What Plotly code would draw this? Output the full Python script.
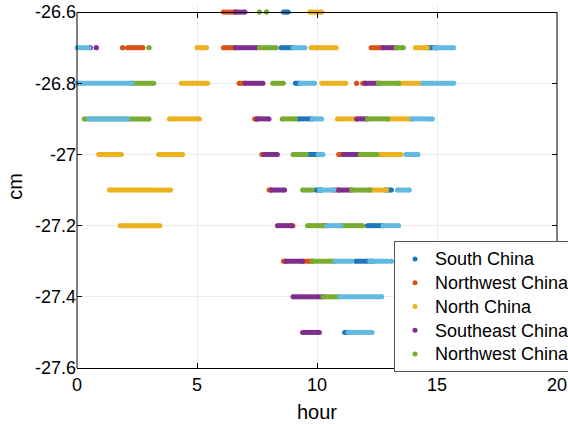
import plotly.graph_objects as go

# ---- data: segments of samples (level in cm, start hour, end hour) ----
south_lvl = [-26.6, -26.7, -26.7, -26.8, -26.9, -27.0, -27.1, -27.1, -27.2, -27.3, -27.5]
south_x0 = [8.6, 8.5, 14.6, 9.1, 9.2, 9.65, 9.95, 12.85, 12.1, 11.6, 11.15]
south_x1 = [8.8, 9.0, 15.0, 9.3, 9.8, 10.05, 10.2, 13.1, 12.75, 12.35, 11.4]

nwest_lvl = [-26.6, -26.7, -26.7, -26.7, -26.7, -26.8, -26.8, -26.8, -26.9, -27.0, -27.0, -27.1, -27.1, -27.2, -27.2, -27.3, -27.3]
nwest_x0 = [6.1, 1.9, 2.1, 6.1, 12.25, 6.75, 11.65, 11.9, 7.4, 7.7, 10.9, 8.0, 10.7, 8.95, 10.25, 8.6, 9.4]
nwest_x1 = [6.6, 1.9, 2.75, 6.6, 12.75, 7.0, 11.65, 12.0, 7.5, 7.8, 11.1, 8.1, 10.9, 9.0, 10.4, 8.7, 9.8]

north_lvl = [-26.6, -26.7, -26.7, -26.7, -26.8, -26.8, -26.8, -26.9, -26.9, -26.9, -27.0, -27.0, -27.0, -27.1, -27.1, -27.1, -27.2]
north_x0 = [9.7, 5.0, 9.75, 14.1, 4.35, 10.2, 13.4, 3.85, 10.85, 12.95, 0.9, 3.4, 12.5, 1.35, 2.8, 12.2, 1.8]
north_x1 = [10.2, 5.4, 10.8, 14.6, 5.45, 11.2, 14.4, 5.1, 11.65, 13.95, 1.85, 4.4, 13.5, 2.7, 3.9, 12.9, 3.45]

seast_lvl = [-26.6, -26.7, -26.7, -26.7, -26.7, -26.8, -26.8, -26.9, -26.9, -27.0, -27.0, -27.1, -27.1, -27.2, -27.3, -27.4, -27.5]
seast_x0 = [6.6, 0.55, 0.8, 6.6, 12.75, 7.0, 12.0, 7.5, 11.65, 7.8, 11.1, 8.1, 10.9, 8.35, 8.7, 9.0, 9.4]
seast_x1 = [7.0, 0.55, 0.8, 7.5, 13.3, 7.75, 12.6, 8.0, 12.1, 8.35, 11.8, 8.65, 11.45, 8.95, 9.4, 10.25, 10.1]

nwest2_lvl = [-26.6, -26.6, -26.7, -26.7, -26.7, -26.8, -26.8, -26.8, -26.9, -26.9, -26.9, -27.0, -27.0, -27.1, -27.1, -27.2, -27.2, -27.3, -27.4]
nwest2_x0 = [7.6, 7.9, 3.0, 7.6, 13.3, 2.3, 8.15, 12.55, 0.3, 8.55, 12.1, 9.0, 11.8, 9.4, 11.45, 9.6, 11.0, 9.8, 10.25]
nwest2_x1 = [7.6, 7.9, 3.0, 8.3, 13.6, 3.2, 8.6, 13.4, 3.0, 9.1, 12.95, 9.55, 12.5, 9.8, 12.2, 10.25, 11.9, 10.75, 10.95]

extra_lvl = [-26.7, -26.7, -26.7, -26.8, -26.8, -26.8, -26.9, -26.9, -26.9, -26.9, -27.0, -27.0, -27.0, -27.1, -27.1, -27.2, -27.2, -27.3, -27.3, -27.3, -27.4, -27.5]
extra_x0 = [0.0, 9.0, 14.9, 0.0, 9.3, 14.4, 0.5, 9.8, 13.95, 14.8, 10.05, 13.7, 14.2, 10.1, 13.35, 10.4, 12.75, 10.75, 12.2, 13.1, 10.95, 11.3]
extra_x1 = [0.5, 9.5, 15.7, 2.3, 9.9, 15.7, 2.1, 10.2, 14.7, 14.8, 10.25, 14.1, 14.2, 10.7, 13.85, 11.0, 13.4, 11.45, 12.95, 13.1, 12.7, 12.3]

series_names = ["South China", "Northwest China", "North China", "Southeast China", "Northwest China", ""]
series_colors = ["#1f77ba", "#D95319", "#EDB120", "#7E2F8E", "#77AC30", "#62B9E2"]
series_data = [
    (south_lvl, south_x0, south_x1),
    (nwest_lvl, nwest_x0, nwest_x1),
    (north_lvl, north_x0, north_x1),
    (seast_lvl, seast_x0, seast_x1),
    (nwest2_lvl, nwest2_x0, nwest2_x1),
    (extra_lvl, extra_x0, extra_x1),
]

x_ticks = [0, 5, 10, 15, 20]
y_ticks = [-27.6, -27.4, -27.2, -27.0, -26.8, -26.6]
y_ticktext = ["-27.6", "-27.4", "-27.2", "-27", "-26.8", "-26.6"]

FONT = "Liberation Sans, Arial, Helvetica, sans-serif"
Y_TOP = -26.58  # small headroom so the top row is not clipped
top_paper = 1 - (Y_TOP - (-26.6)) / (Y_TOP - (-27.6))

fig = go.Figure()

for (lvl, x0, x1), col in zip(series_data, series_colors):
    xs, ys = [], []
    for l, a, b in zip(lvl, x0, x1):
        xs += [a, b, None]
        ys += [l, l, None]
    fig.add_trace(go.Scatter(
        x=xs, y=ys, mode="lines+markers",
        line=dict(color=col, width=5),
        marker=dict(color=col, size=5),
        showlegend=False, hoverinfo="skip", cliponaxis=False,
    ))

# legend entries (first five series)
for name, col in zip(series_names[:5], series_colors[:5]):
    fig.add_trace(go.Scatter(
        x=[None], y=[None], mode="markers",
        name="<span style='font-size:18px'>" + name + "</span>",
        marker=dict(color=col, size=5),
    ))

# helper trace for the top border axis
fig.add_trace(go.Scatter(x=[None], y=[None], xaxis="x2", showlegend=False, hoverinfo="skip"))

fig.update_layout(
    width=568, height=424,
    margin=dict(l=77, r=11, t=5, b=56, autoexpand=False),
    paper_bgcolor="white", plot_bgcolor="white",
    font=dict(family=FONT, size=18, color="black"),
    xaxis=dict(
        range=[0, 20], tickvals=x_ticks, ticks="inside", ticklen=5, tickcolor="black",
        showline=True, linecolor="black", linewidth=1, mirror=False,
        showgrid=True, gridcolor="#ebebeb", zeroline=False, automargin=False,
        tickfont=dict(size=18),
        title=dict(text="hour", font=dict(size=20), standoff=11),
    ),
    xaxis2=dict(
        overlaying="x", side="top", anchor="free", position=top_paper,
        range=[0, 20], tickvals=x_ticks, ticks="inside", ticklen=5, tickcolor="black",
        showticklabels=False, showline=True, linecolor="black", linewidth=1,
        showgrid=False, zeroline=False,
    ),
    yaxis=dict(
        range=[-27.6, Y_TOP], tickvals=y_ticks, ticktext=y_ticktext,
        ticks="inside", ticklen=5, tickcolor="black", mirror="ticks",
        showline=False, showgrid=True, gridcolor="#ebebeb", zeroline=False,
        automargin=False, tickfont=dict(size=18),
        title=dict(text="cm", font=dict(size=20), standoff=6),
    ),
    legend=dict(
        x=(394 - 77) / 480, xanchor="left", y=-4 / 363, yanchor="bottom",
        bgcolor="white", bordercolor="#555555", borderwidth=1,
        font=dict(size=16, family=FONT), tracegroupgap=0,
    ),
    shapes=[
        dict(type="line", xref="paper", yref="y", x0=0, x1=0, y0=-27.6, y1=-26.6,
             line=dict(color="black", width=1)),
        dict(type="line", xref="paper", yref="y", x0=1, x1=1, y0=-27.6, y1=-26.6,
             line=dict(color="black", width=1)),
    ],
)

fig.write_html("out.html", config={"displayModeBar": False},
               post_script="document.body.style.margin='0';")
